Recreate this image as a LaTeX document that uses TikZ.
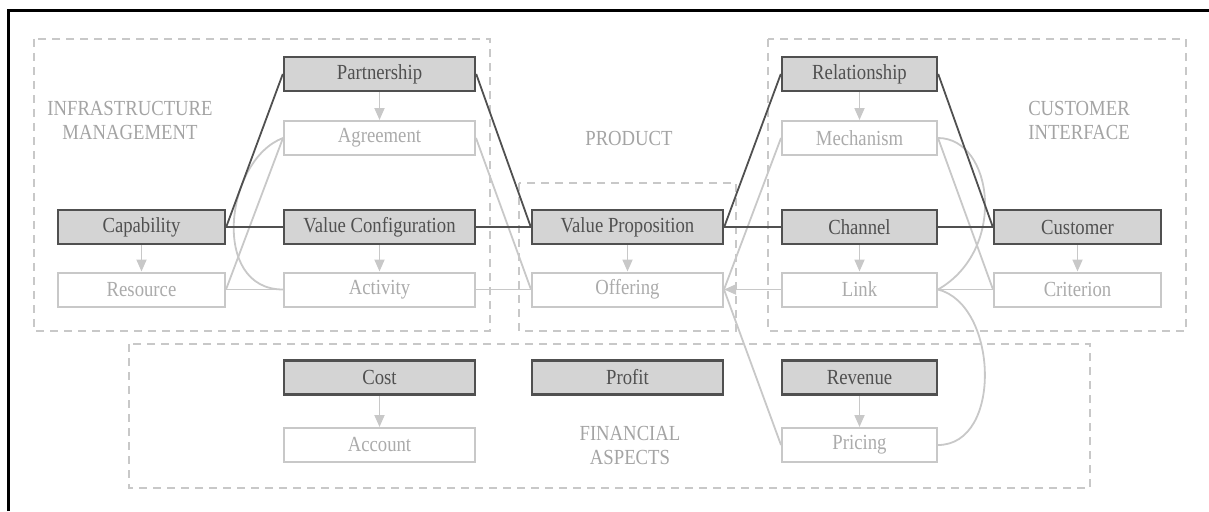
\documentclass[tikz,border=0pt]{standalone}
\usepackage{fontspec}
\setmainfont{Liberation Serif}[FakeStretch=0.87]
\usetikzlibrary{arrows.meta,backgrounds}
\definecolor{darkline}{HTML}{505050}
\definecolor{darkfill}{HTML}{D4D4D4}
\definecolor{darktext}{HTML}{505050}
\definecolor{lightline}{HTML}{C8C8C8}
\definecolor{lighttext}{HTML}{ABABAB}
\definecolor{labeltext}{HTML}{A4A4A4}
\definecolor{dashcol}{HTML}{C8C8C8}
\begin{document}
\begin{tikzpicture}[x=1pt,y=-1pt,
  every node/.style={font=\fontsize{21.5}{24}\selectfont, inner sep=0pt},
  darkbox/.style={draw=darkline, fill=darkfill, line width=2.4pt, text=darktext, minimum height=34pt},
  lightbox/.style={draw=lightline, fill=white, line width=2pt, text=lighttext, minimum height=34pt},
  wA/.style={minimum width=167pt},
  wB/.style={minimum width=191pt},
  wC/.style={minimum width=155pt},
  grouplabel/.style={text=labeltext, align=center},
  groupbox/.style={draw=dashcol, line width=2pt, dash pattern=on 8pt off 6pt},
  darkconn/.style={draw=darkline, line width=1.8pt},
  lightconn/.style={draw=lightline, line width=1.8pt},
  lightarrow/.style={draw=lightline, line width=1.8pt, -{Triangle[length=12pt,width=10pt]}}
]
\useasboundingbox (0,0) rectangle (1209,511);
% frame
\draw[line width=3pt, black] (8,511) -- (8,11) -- (1209,11);

% nodes
\node[darkbox,wB] (partnership) at (379.5,74) {Partnership};
\node[lightbox,wB] (agreement) at (379.5,138) {Agreement};
\node[darkbox,wA] (capability) at (141.5,227) {Capability};
\node[darkbox,wB] (valueconf) at (379.5,227) {Value Configuration};
\node[lightbox,wA] (resource) at (141.5,289.5) {Resource};
\node[lightbox,wB] (activity) at (379.5,289.5) {Activity};
\node[darkbox,wB] (valueprop) at (627.5,227) {Value Proposition};
\node[lightbox,wB] (offering) at (627.5,289.5) {Offering};
\node[darkbox,wC] (relationship) at (859.5,74) {Relationship};
\node[lightbox,wC] (mechanism) at (859.5,138) {Mechanism};
\node[darkbox,wC] (channel) at (859.5,227) {Channel};
\node[lightbox,wC] (link) at (859.5,289.5) {Link};
\node[darkbox,wA] (customer) at (1077.5,227) {Customer};
\node[lightbox,wA] (criterion) at (1077.5,289.5) {Criterion};
\node[darkbox,wB] (cost) at (379.5,377.5) {Cost};
\node[lightbox,wB] (account) at (379.5,445) {Account};
\node[darkbox,wB] (profit) at (627.5,377.5) {Profit};
\node[darkbox,wC] (revenue) at (859.5,377.5) {Revenue};
\node[lightbox,wC] (pricing) at (859.5,445) {Pricing};

% group labels
\node[grouplabel] (infralabel) at (130,120) {INFRASTRUCTURE\\MANAGEMENT};
\node[grouplabel] (productlabel) at (629,138) {PRODUCT};
\node[grouplabel] (customerlabel) at (1079,120) {CUSTOMER\\INTERFACE};
\node[grouplabel] (financelabel) at (630,445) {FINANCIAL\\ASPECTS};

\begin{pgfonlayer}{background}
% dashed groups
\draw[groupbox] (34,39) rectangle (490,331);
\draw[groupbox] (519,183) rectangle (736,331);
\draw[groupbox] (768,39) rectangle (1186,331);
\draw[groupbox] (129,344) rectangle (1090,488);

% light connectors
\draw[lightconn] (resource.east) -- (agreement.west);
\draw[lightconn] (resource.east) -- (activity.west);
\draw[lightconn] (agreement.west) .. controls +(-58,22) and +(-73,0) .. (activity.west);
\draw[lightconn] (activity.east) -- (offering.west);
\draw[lightconn] (agreement.east) -- (offering.west);
\draw[lightconn] (mechanism.west) -- (offering.east);
\draw[lightconn] (pricing.west) -- (offering.east);
\draw[lightconn] (mechanism.east) -- (criterion.west);
\draw[lightconn] (link.east) -- (criterion.west);
\draw[lightconn] (mechanism.east) .. controls +(55,0) and +(70,-40) .. (link.east);
\draw[lightconn] (link.east) .. controls +(60,15) and +(65,0) .. (pricing.east);
\draw[lightarrow] (link.west) -- (offering.east);

\draw[lightarrow] (partnership) -- (agreement);
\draw[lightarrow] (capability) -- (resource);
\draw[lightarrow] (valueconf) -- (activity);
\draw[lightarrow] (valueprop) -- (offering);
\draw[lightarrow] (relationship) -- (mechanism);
\draw[lightarrow] (channel) -- (link);
\draw[lightarrow] (customer) -- (criterion);
\draw[lightarrow] (cost) -- (account);
\draw[lightarrow] (revenue) -- (pricing);

% dark connectors
\draw[darkconn] (capability.east) -- (valueconf.west);
\draw[darkconn] (valueconf.east) -- (valueprop.west);
\draw[darkconn] (valueprop.east) -- (channel.west);
\draw[darkconn] (channel.east) -- (customer.west);
\draw[darkconn] (capability.east) -- (partnership.west);
\draw[darkconn] (partnership.east) -- (valueprop.west);
\draw[darkconn] (valueprop.east) -- (relationship.west);
\draw[darkconn] (relationship.east) -- (customer.west);
\end{pgfonlayer}
\end{tikzpicture}
\end{document}
